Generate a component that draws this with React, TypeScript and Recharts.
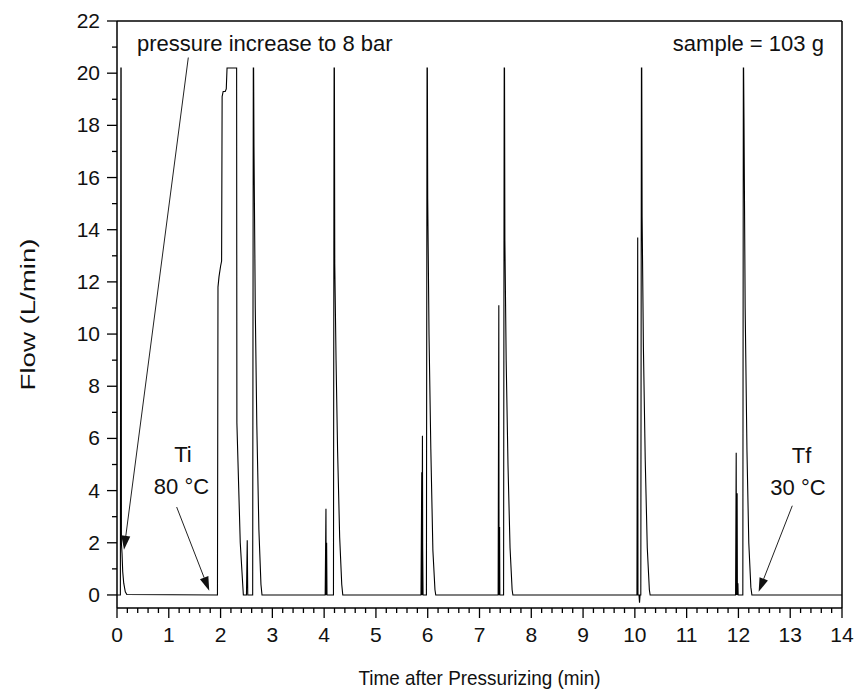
import React from "react";
import { LineChart, Line, XAxis, YAxis, ReferenceLine, ReferenceDot } from "recharts";

// Time after pressurizing (min)
const timeMin: number[] = [
  0, 0.065, 0.075, 0.08, 0.085, 0.097, 0.11, 0.13, 0.16, 0.19,
  1.94, 1.95, 1.97, 2.0, 2.02, 2.03, 2.05, 2.09, 2.11, 2.125, 2.31, 2.315, 2.38, 2.44,
  2.5, 2.515, 2.525, 2.62, 2.632, 2.638, 2.645, 2.67, 2.7, 2.74, 2.78, 2.8,
  4.02, 4.035, 4.04, 4.048, 4.055, 4.18, 4.192, 4.198, 4.205, 4.23, 4.26, 4.3, 4.34, 4.36,
  5.87, 5.885, 5.89, 5.898, 5.903, 5.91, 5.975, 5.987, 5.993, 6.0, 6.025, 6.06, 6.1, 6.14, 6.155,
  7.36, 7.373, 7.378, 7.388, 7.393, 7.465, 7.477, 7.483, 7.49, 7.515, 7.55, 7.59, 7.63, 7.645,
  10.04, 10.055, 10.06, 10.08, 10.09, 10.1, 10.115, 10.127, 10.133, 10.14, 10.165, 10.2, 10.24, 10.28, 10.295,
  11.945, 11.957, 11.962, 11.975, 11.98, 11.99, 11.995, 12.085, 12.095, 12.1, 12.107, 12.13, 12.165, 12.2, 12.24, 12.26,
  14,
];

// Flow (L/min)
const flowLpm: number[] = [
  0, 0, 20.2, 20.2, 2.0, 1.6, 0.9, 0.45, 0.12, 0.02,
  0, 11.8, 12.2, 12.6, 12.8, 19.1, 19.3, 19.3, 19.4, 20.2, 20.2, 6.6, 2.0, 0,
  0, 2.1, 0, 0, 20.2, 20.2, 17.2, 11, 6.5, 2.5, 0.4, 0,
  0, 3.3, 0, 2.0, 0, 0, 20.2, 20.2, 12.7, 9, 5.5, 2.2, 0.4, 0,
  0, 4.7, 0, 6.1, 1.8, 0, 0, 20.2, 20.2, 15.2, 10, 5.6, 1.7, 0.2, 0,
  0, 11.1, 0, 2.6, 0, 0, 20.2, 20.2, 13.6, 9, 5, 1.8, 0.2, 0,
  0, 13.7, 0, 0, -0.3, 0, 0, 20.2, 20.2, 14.5, 9.5, 5.2, 1.8, 0.2, 0,
  0, 5.45, 0, 3.9, 0, 0.45, 0, 0, 20.2, 20.2, 18.3, 11, 5.5, 2.0, 0.3, 0,
  0,
];

const xMajorLabels: number[] = [0, 1, 2, 3, 4, 5, 6, 7, 8, 9, 10, 11, 12, 13, 14];
const yMajorLabels: number[] = [0, 2, 4, 6, 8, 10, 12, 14, 16, 18, 20, 22];

const xTicks: number[] = [];
for (let i = 0; i <= 70; i++) xTicks.push(i / 5);
const yTicks: number[] = [];
for (let i = 0; i <= 22; i++) yTicks.push(i);

const rows = timeMin.map((t, i) => ({ t, flow: flowLpm[i] }));

const FONT = "'Liberation Sans', Arial, sans-serif";
const INK = "#111";

const XTick = (props: any) => {
  const { x, y, payload } = props;
  const v = payload.value as number;
  const major = xMajorLabels.some((m) => Math.abs(m - v) < 1e-6);
  return (
    <g>
      <line x1={x} y1={y} x2={x} y2={y + (major ? 10 : 5)} stroke="#000" strokeWidth={1.3} />
      {major && (
        <text x={x} y={y + 34} textAnchor="middle" fontSize={21} fontFamily={FONT} fill={INK}>
          {Math.round(v)}
        </text>
      )}
    </g>
  );
};

const YTick = (props: any) => {
  const { x, y, payload } = props;
  const v = payload.value as number;
  const major = yMajorLabels.includes(v);
  return (
    <g>
      <line x1={x} y1={y} x2={x - (major ? 10 : 5)} y2={y} stroke="#000" strokeWidth={1.3} />
      {major && (
        <text x={x - 17} y={y + 7} textAnchor="end" fontSize={21} fontFamily={FONT} fill={INK}>
          {v}
        </text>
      )}
    </g>
  );
};

const Arrow = (props: any) => {
  const { x1, y1, x2, y2 } = props;
  const dx = x2 - x1;
  const dy = y2 - y1;
  const len = Math.sqrt(dx * dx + dy * dy) || 1;
  const ux = dx / len;
  const uy = dy / len;
  const hl = 14;
  const hw = 4.5;
  const bx = x2 - ux * hl;
  const by = y2 - uy * hl;
  const p = `${x2},${y2} ${bx - uy * hw},${by + ux * hw} ${bx + uy * hw},${by - ux * hw}`;
  return (
    <g>
      <line x1={x1} y1={y1} x2={bx} y2={by} stroke="#222" strokeWidth={1} />
      <polygon points={p} fill="#111" />
    </g>
  );
};

const label = (text: React.ReactNode, anchor: "start" | "middle" | "end") => (props: any) => (
  <text x={props.cx} y={props.cy} textAnchor={anchor} fontSize={22} fontFamily={FONT} fill={INK}>
    {text}
  </text>
);

export default function App() {
  return (
    <div style={{ position: "absolute", left: 0, top: 0, background: "#fff" }}>
      <LineChart width={855} height={692} data={rows} margin={{ top: 21, right: 13, bottom: 0, left: 0 }}>
        <XAxis
          dataKey="t"
          type="number"
          domain={[0, 14]}
          ticks={xTicks}
          interval={0}
          tick={<XTick />}
          tickLine={false}
          tickSize={0}
          tickMargin={0}
          height={84}
          axisLine={{ stroke: "#000", strokeWidth: 1.5 }}
          allowDataOverflow
          label={{
            content: (p: any) => {
              const vb = p.viewBox;
              return (
                <text
                  x={vb.x + vb.width / 2}
                  y={685}
                  textAnchor="middle"
                  fontSize={21}
                  fontFamily={FONT}
                  fill={INK}
                  textLength={242}
                  lengthAdjust="spacingAndGlyphs"
                >
                  Time after Pressurizing (min)
                </text>
              );
            },
          }}
        />
        <YAxis
          type="number"
          domain={[-0.5, 22]}
          ticks={yTicks}
          interval={0}
          tick={<YTick />}
          tickLine={false}
          tickSize={0}
          tickMargin={0}
          width={117}
          axisLine={{ stroke: "#000", strokeWidth: 1.5 }}
          allowDataOverflow
          label={{
            content: (p: any) => {
              const vb = p.viewBox;
              const cy = vb.y + vb.height / 2;
              return (
                <text
                  x={35}
                  y={cy}
                  transform={`rotate(-90 35 ${cy})`}
                  textAnchor="middle"
                  fontSize={21}
                  fontFamily={FONT}
                  fill={INK}
                  textLength={152}
                  lengthAdjust="spacingAndGlyphs"
                >
                  Flow (L/min)
                </text>
              );
            },
          }}
        />
        <ReferenceLine y={22} stroke="#000" strokeWidth={1.5} ifOverflow="visible" />
        <ReferenceLine x={14} stroke="#000" strokeWidth={1.5} ifOverflow="visible" />
        <Line
          type="linear"
          dataKey="flow"
          stroke="#000"
          strokeWidth={1.1}
          dot={false}
          activeDot={false}
          isAnimationActive={false}
        />
        <ReferenceLine segment={[{ x: 1.377, y: 20.6 }, { x: 0.135, y: 1.73 }]} shape={<Arrow />} ifOverflow="visible" />
        <ReferenceLine segment={[{ x: 1.152, y: 3.37 }, { x: 1.781, y: 0.16 }]} shape={<Arrow />} ifOverflow="visible" />
        <ReferenceLine segment={[{ x: 13.04, y: 3.42 }, { x: 12.39, y: 0.12 }]} shape={<Arrow />} ifOverflow="visible" />
        <ReferenceDot x={0.386} y={20.84} r={0} shape={label("pressure increase to 8 bar", "start")} ifOverflow="visible" />
        <ReferenceDot x={13.65} y={20.84} r={0} shape={label("sample = 103 g", "end")} ifOverflow="visible" />
        <ReferenceDot x={1.274} y={5.08} r={0} shape={label("Ti", "middle")} ifOverflow="visible" />
        <ReferenceDot x={1.245} y={3.88} r={0} shape={label("80 \u00B0C", "middle")} ifOverflow="visible" />
        <ReferenceDot x={13.22} y={5.07} r={0} shape={label("Tf", "middle")} ifOverflow="visible" />
        <ReferenceDot x={13.15} y={3.84} r={0} shape={label("30 \u00B0C", "middle")} ifOverflow="visible" />
      </LineChart>
    </div>
  );
}
